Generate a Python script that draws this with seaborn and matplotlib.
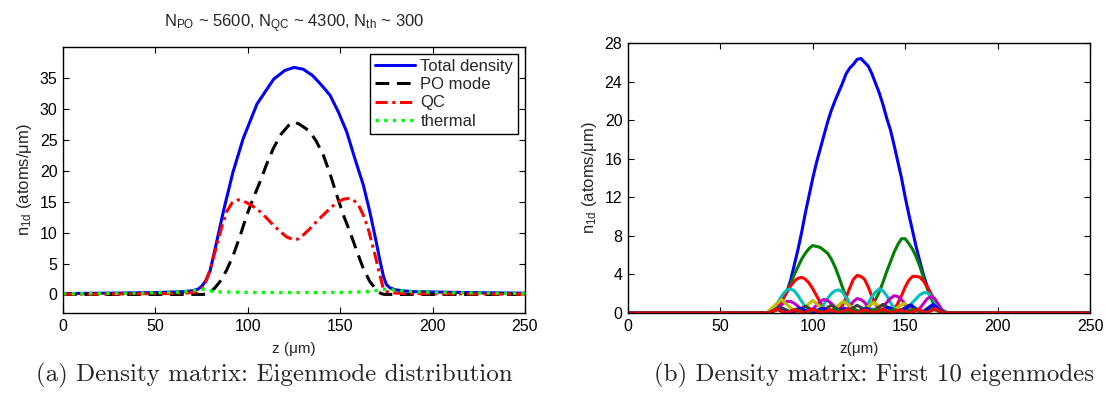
import matplotlib
matplotlib.use("Agg")
import matplotlib.pyplot as plt
import seaborn as sns
import numpy as np

# ---------------- data: panel (a) ----------------
z_tot = [0, 10, 20, 30, 40, 50, 60, 65, 70, 73, 75, 77, 79.5, 83, 87, 92, 97.5, 105, 114, 120,
         125, 130, 135, 140, 144.5, 149, 153.5, 158, 162.5, 166, 169, 171.5, 173.5, 175, 177,
         180, 185, 190, 200, 210, 220, 235, 250]
n_tot = [0.15, 0.17, 0.2, 0.22, 0.27, 0.3, 0.4, 0.45, 0.6, 0.85, 1.3, 2.1, 3.7, 8.3, 13.7, 19.8,
         25.2, 30.8, 34.8, 36.2, 36.7, 36.4, 35.4, 33.8, 32.2, 29.5, 26.3, 21.9, 17.7, 13.4, 9.2,
         5.5, 2.8, 1.6, 1.05, 0.75, 0.55, 0.45, 0.4, 0.35, 0.3, 0.25, 0.2]

z_po = [0, 76, 78, 80, 82, 85, 88.5, 92.2, 96, 99.4, 103, 106.6, 110, 113.8, 118, 122, 125.2,
        128, 131, 133.6, 137, 140.9, 144.5, 148.1, 151.5, 155.3, 159, 162.5, 166, 169.7, 172,
        174, 250]
n_po = [0, 0, 0.15, 0.5, 1.0, 2.1, 3.9, 6.4, 9.6, 12.8, 15.6, 18.2, 20.9, 23.6, 25.9, 27.3, 27.9,
        27.5, 26.9, 26.3, 24.8, 22.5, 19.5, 16.1, 13.0, 10.1, 7.0, 4.2, 2.1, 0.7, 0.15, 0, 0]

z_qc = [0, 20, 40, 60, 68, 72, 74, 76, 78, 80.4, 82, 84, 86, 88.6, 91.5, 94.9, 97.5, 100.3,
        103.5, 106.6, 110, 113.8, 117.5, 121, 123.5, 125.2, 127.5, 130, 133.5, 137.3, 141,
        144.5, 148, 151.7, 154.5, 157.1, 160, 162.5, 165, 167, 169, 170.6, 172, 173.3, 175,
        178, 185, 200, 250]
n_qc = [0.05, 0.05, 0.1, 0.15, 0.25, 0.4, 0.7, 1.2, 2.6, 4.8, 6.6, 8.8, 11.0, 13.4, 14.8, 15.3,
        15.1, 14.7, 14.1, 13.4, 12.4, 11.2, 10.2, 9.3, 9.0, 8.8, 9.0, 9.6, 10.6, 11.8, 12.9,
        13.9, 14.8, 15.4, 15.5, 15.3, 14.4, 12.8, 10.8, 8.5, 6.2, 4.2, 2.5, 1.0, 0.5, 0.25,
        0.15, 0.1, 0.05]

z_th = [0, 20, 40, 55, 65, 70, 73, 76, 78, 81, 85, 95, 110, 125, 140, 155, 165, 169, 172, 175,
        178, 182, 190, 200, 215, 235, 250]
n_th = [0.1, 0.15, 0.2, 0.3, 0.4, 0.55, 0.75, 0.85, 0.7, 0.5, 0.4, 0.35, 0.3, 0.3, 0.3, 0.35,
        0.45, 0.6, 0.8, 0.85, 0.75, 0.6, 0.45, 0.35, 0.25, 0.2, 0.15]

labels_a = ["Total density", "PO mode", "QC", "thermal"]
title_a = r"N$_{\mathrm{PO}}$ ~ 5600, N$_{\mathrm{QC}}$ ~ 4300, N$_{\mathrm{th}}$ ~ 300"

# ---------------- data: panel (b) ----------------
z_r = [0, 76, 78, 80, 82, 84, 86, 88, 90, 92, 94, 96, 98, 100, 102, 104, 106, 108, 110, 112,
       114, 116, 118, 120, 122, 124, 126, 128, 130, 132, 134, 136, 138, 140, 142, 144, 146,
       148, 150, 152, 154, 156, 158, 160, 162, 164, 166, 168, 170, 172, 174, 250]
mode1 = [0, 0.0, 0.2, 0.5, 0.9, 1.5, 2.2, 3.4, 5.0, 6.6, 8.4, 10.4, 12.2, 14.0, 15.6, 17.0, 18.4,
         19.8, 21.0, 22.0, 22.9, 23.8, 24.8, 25.4, 25.8, 26.3, 26.4, 26.0, 25.6, 24.8, 23.8,
         22.8, 21.6, 20.2, 19.0, 17.4, 15.7, 14.0, 12.0, 10.2, 8.5, 6.8, 5.3, 3.9, 2.7, 1.8,
         1.1, 0.6, 0.3, 0.1, 0.0, 0]
mode2 = [0, 0, 0.1, 0.5, 1.0, 1.6, 2.2, 3.0, 4.0, 4.8, 5.6, 6.2, 6.7, 7.0, 6.9, 6.8, 6.5, 6.2,
         5.6, 4.8, 3.8, 2.7, 1.7, 0.9, 0.3, 0.05, 0.0, 0.2, 0.6, 1.0, 1.4, 2.2, 3.2, 4.3, 5.3,
         6.3, 7.1, 7.7, 7.7, 7.2, 6.6, 5.8, 4.8, 3.6, 2.5, 1.5, 0.8, 0.4, 0.15, 0.0, 0.0, 0]
mode3 = [0, 0, 0.1, 0.4, 0.9, 1.5, 2.2, 2.8, 3.3, 3.6, 3.7, 3.5, 3.1, 2.5, 1.8, 1.1, 0.5, 0.15,
         0.0, 0.1, 0.3, 0.8, 1.6, 2.6, 3.5, 3.9, 3.8, 3.5, 2.7, 1.7, 0.9, 0.4, 0.1, 0.0, 0.1,
         0.4, 1.0, 1.8, 2.7, 3.4, 3.8, 3.8, 3.7, 3.3, 2.7, 2.0, 1.3, 0.6, 0.2, 0.0, 0, 0]
mode4 = [0, 0, 0.2, 0.8, 1.4, 2.0, 2.4, 2.5, 2.3, 1.8, 1.2, 0.6, 0.2, 0.0, 0.1, 0.4, 0.9, 1.5,
         2.0, 2.3, 2.4, 2.2, 1.6, 0.9, 0.3, 0.0, 0.1, 0.4, 1.0, 1.7, 2.2, 2.5, 2.3, 1.8, 1.1,
         0.5, 0.1, 0.0, 0.2, 0.6, 1.1, 1.5, 1.9, 2.1, 2.1, 1.8, 1.2, 0.6, 0.2, 0.0, 0, 0]
mode5 = [0, 0, 0.1, 0.4, 0.7, 1.0, 1.2, 1.2, 1.0, 0.7, 0.3, 0.05, 0.1, 0.4, 0.8, 1.2, 1.4, 1.3,
         1.0, 0.6, 0.2, 0.0, 0.2, 0.7, 1.2, 1.5, 1.4, 1.1, 0.6, 0.2, 0.0, 0.2, 0.6, 1.1, 1.5,
         1.8, 1.7, 1.4, 0.9, 0.4, 0.1, 0.1, 0.5, 1.0, 1.5, 1.7, 1.5, 0.9, 0.3, 0.0, 0, 0]

z6 = [0, 75, 79, 83, 87, 91.5, 96, 100, 104, 108.5, 112.5, 116.5, 121, 125, 129, 133, 137, 141,
      145, 149.5, 153.5, 157.5, 161, 165, 168.5, 172, 250]
mode6 = [0, 0, 0.7, 1.4, 0.7, 0, 0.65, 1.3, 0.65, 0, 0.6, 1.2, 0.6, 0, 0.55, 1.1, 0.55, 0, 0.5,
         1.0, 0.5, 0, 0.4, 0.8, 0.4, 0, 0]
z7 = [0, 76, 79, 82.5, 86, 89, 92.5, 96, 99.5, 103, 106.5, 110, 113.5, 117, 120.5, 124, 127.5,
      131, 134.5, 138, 141.5, 145, 148.5, 152, 155.5, 159, 162, 165.5, 169, 172, 250]
mode7 = [0, 0, 0.3, 0.6, 0.3, 0, 0.35, 0.7, 0.35, 0, 0.4, 0.8, 0.4, 0, 0.4, 0.8, 0.4, 0, 0.45,
         0.9, 0.45, 0, 0.4, 0.8, 0.4, 0, 0.3, 0.6, 0.3, 0, 0]
z8 = [0, 76, 78.8, 81.5, 84.2, 87, 90, 93, 96, 99, 102, 105, 108, 111, 114, 117, 120, 123, 126,
      129, 132, 135, 138, 141, 144, 147, 150, 153, 156, 159, 162, 165, 168, 171, 250]
mode8 = [0, 0, 0.2, 0.4, 0.2, 0, 0.25, 0.5, 0.25, 0, 0.25, 0.5, 0.25, 0, 0.25, 0.5, 0.25, 0,
         0.25, 0.5, 0.25, 0, 0.3, 0.6, 0.3, 0, 0.42, 0.85, 0.42, 0, 0.45, 0.9, 0.45, 0, 0]
z9 = [0, 76, 78.4, 80.8, 83.2, 85.5, 88.1, 90.8, 93.4, 96, 98.6, 101.2, 103.9, 106.5, 109.2,
      112, 114.8, 117.5, 120.1, 122.8, 125.4, 128, 130.6, 133.2, 135.9, 138.5, 141.2, 144,
      146.8, 149.5, 152.1, 154.8, 157.4, 160, 162.8, 165.5, 168.2, 171, 250]
mode9 = [0, 0, 0.17, 0.35, 0.17, 0, 0.2, 0.4, 0.2, 0, 0.17, 0.35, 0.17, 0, 0.2, 0.4, 0.2, 0,
         0.17, 0.35, 0.17, 0, 0.2, 0.4, 0.2, 0, 0.17, 0.35, 0.17, 0, 0.2, 0.4, 0.2, 0, 0.17,
         0.35, 0.17, 0, 0]
z10 = [0, 76, 78.4, 80.8, 83.1, 85.5, 87.9, 90.2, 92.6, 95, 97.4, 99.8, 102.1, 104.5, 106.9,
       109.2, 111.6, 114, 116.4, 118.8, 121.1, 123.5, 125.9, 128.2, 130.6, 133, 135.4, 137.8,
       140.1, 142.5, 144.9, 147.2, 149.6, 152, 154.4, 156.8, 159.1, 161.5, 163.9, 166.2,
       168.6, 171, 250]
mode10 = [0, 0, 0.2, 0.4, 0.2, 0, 0.17, 0.35, 0.17, 0, 0.2, 0.4, 0.2, 0, 0.17, 0.35, 0.17, 0,
          0.2, 0.4, 0.2, 0, 0.17, 0.35, 0.17, 0, 0.2, 0.4, 0.2, 0, 0.17, 0.35, 0.17, 0, 0.2,
          0.4, 0.2, 0, 0.22, 0.45, 0.22, 0, 0]

caption_a = "(a) Density matrix: Eigenmode distribution"
caption_b = "(b) Density matrix: First 10 eigenmodes"

# ---------------- style ----------------
sns.set_style("ticks")
plt.rcParams["font.family"] = ["Liberation Sans", "DejaVu Sans"]
plt.rcParams["mathtext.fontset"] = "custom"
plt.rcParams["mathtext.rm"] = "Liberation Sans"
plt.rcParams["mathtext.it"] = "Liberation Sans:italic"
plt.rcParams["mathtext.bf"] = "Liberation Sans:bold"

fig = plt.figure(figsize=(11.05, 4.01), dpi=100)
W, H = 1105, 401
axA = fig.add_axes([63 / W, 1 - 313 / H, 462 / W, 266 / H])
axB = fig.add_axes([628 / W, 1 - 313 / H, 462 / W, 270 / H])

# panel (a)
sns.lineplot(x=z_tot, y=n_tot, ax=axA, color="#0000ff", lw=2.2, label=labels_a[0])
sns.lineplot(x=z_po, y=n_po, ax=axA, color="black", lw=2.2, linestyle=(0, (4.5, 2.5)),
             label=labels_a[1])
sns.lineplot(x=z_qc, y=n_qc, ax=axA, color="#ff0000", lw=2.2,
             linestyle=(0, (4, 1.5, 1, 1.5)), label=labels_a[2])
sns.lineplot(x=z_th, y=n_th, ax=axA, color="#00ff00", lw=2.4, linestyle=(0, (1, 1.6)),
             label=labels_a[3])
axA.set_xlim(0, 250)
axA.set_ylim(-3, 40)
axA.set_xticks([0, 50, 100, 150, 200, 250])
axA.set_yticks([0, 5, 10, 15, 20, 25, 30, 35])
axA.set_title(title_a, fontsize=12, pad=14)
axA.set_xlabel("z (μm)", fontsize=11, labelpad=6)
axA.set_ylabel(r"n$_{\mathrm{1d}}$ (atoms/μm)", fontsize=12, labelpad=4)
leg = axA.legend(loc="upper right", fontsize=12, frameon=True, fancybox=False,
                 edgecolor="black", framealpha=1, borderaxespad=0.4, labelspacing=0.2,
                 handlelength=2.4, handletextpad=0.35, borderpad=0.3)
leg.get_frame().set_linewidth(1.0)

# panel (b)
mode_colors = ["#0000ff", "#008000", "#ff0000", "#00bfbf", "#bf00bf", "#bfbf00", "#404040",
               "#0000ff", "#008000", "#ff0000"]
mode_x = [z_r, z_r, z_r, z_r, z_r, z6, z7, z8, z9, z10]
mode_y = [mode1, mode2, mode3, mode4, mode5, mode6, mode7, mode8, mode9, mode10]
for k in range(10):
    sns.lineplot(x=mode_x[k], y=mode_y[k], ax=axB, color=mode_colors[k], lw=2.2)
axB.set_xlim(0, 250)
axB.set_ylim(0, 28)
axB.set_xticks([0, 50, 100, 150, 200, 250])
axB.set_yticks([0, 4, 8, 12, 16, 20, 24, 28])
axB.set_xlabel("z(μm)", fontsize=11, labelpad=6)
axB.set_ylabel(r"n$_{\mathrm{1d}}$ (atoms/μm)", fontsize=12, labelpad=4)

for ax in (axA, axB):
    ax.tick_params(direction="in", length=4, width=0.8, top=True, right=True,
                   labelsize=11.5, colors="black", pad=4)
    for s in ax.spines.values():
        s.set_visible(True)
        s.set_color("black")
        s.set_linewidth(1.0)

fig.text(274 / W, 1 - 375 / H, caption_a, family="cmr10", fontsize=18, ha="center", va="center")
fig.text(874 / W, 1 - 375 / H, caption_b, family="cmr10", fontsize=18, ha="center", va="center")

fig.savefig("out.png", dpi=100)
